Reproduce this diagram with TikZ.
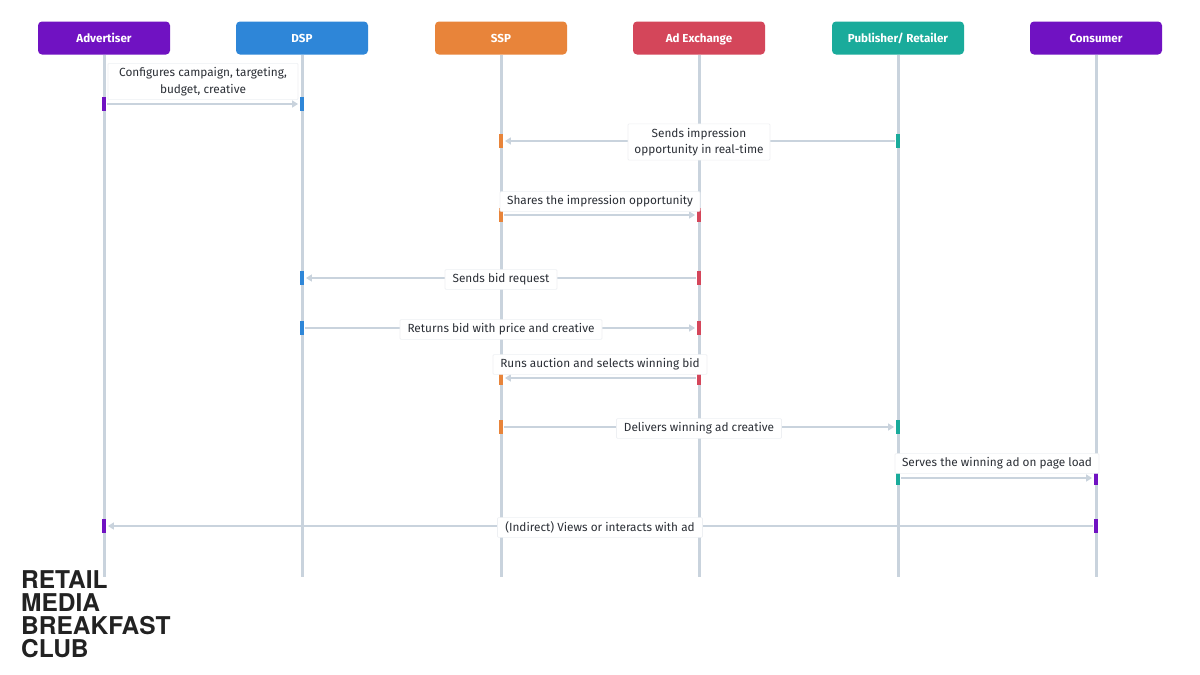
\documentclass[tikz,border=0pt]{standalone}
\usepackage{fontspec}
\setmainfont{Fira Sans}
\newfontfamily\logofont{TeX Gyre Heros}
\usetikzlibrary{arrows.meta}
\definecolor{cAdv}{HTML}{7012C2}
\definecolor{cDsp}{HTML}{2E86D8}
\definecolor{cSsp}{HTML}{E8843A}
\definecolor{cAdx}{HTML}{D4465A}
\definecolor{cPub}{HTML}{1AAB9B}
\definecolor{cLine}{HTML}{C9D3DD}
\definecolor{cText}{HTML}{2B2F36}
\definecolor{cLogo}{HTML}{222222}
\definecolor{cBorder}{HTML}{EEF0F3}
\begin{document}
\begin{tikzpicture}[x=1pt,y=-1pt,
  header/.style={rounded corners=4pt, minimum width=132pt, minimum height=33pt, inner sep=0pt, text height=8.2pt, text depth=0pt, text=white, font=\bfseries\fontsize{11.6}{13}\selectfont},
  life/.style={draw=cLine, line width=3pt},
  bar/.style={minimum width=4.5pt, minimum height=14pt, inner sep=0pt},
  msg/.style={draw=cLine, line width=2.5pt, -{Triangle[length=6pt,width=7pt]}, shorten >=1.5pt, shorten <=1pt},
  lbl/.style={fill=white, draw=cBorder, line width=0.6pt, rounded corners=1pt, text=cText, align=center, font=\fontsize{11.8}{16.5}\selectfont, inner xsep=5pt, inner ysep=4pt}
]
\useasboundingbox (0,0) rectangle (1200,675);
\fill[white] (0,0) rectangle (1200,675);

% headers
\node[header, fill=cAdv] (adv) at (104,38) {Advertiser};
\node[header, fill=cDsp] (dsp) at (302,38) {DSP};
\node[header, fill=cSsp] (ssp) at (501,38) {SSP};
\node[header, fill=cAdx] (adx) at (699,38) {Ad Exchange};
\node[header, fill=cPub] (pub) at (898,38) {Publisher/ Retailer};
\node[header, fill=cAdv] (con) at (1096,38) {Consumer};

% lifeline ends
\coordinate (advE) at (104,577);
\coordinate (dspE) at (302,577);
\coordinate (sspE) at (501,577);
\coordinate (adxE) at (699,577);
\coordinate (pubE) at (898,577);
\coordinate (conE) at (1096,577);
\draw[life] (adv) -- (advE);
\draw[life] (dsp) -- (dspE);
\draw[life] (ssp) -- (sspE);
\draw[life] (adx) -- (adxE);
\draw[life] (pub) -- (pubE);
\draw[life] (con) -- (conE);

% activation bars
\node[bar, fill=cAdv] (m1s) at (104,104) {};
\node[bar, fill=cDsp] (m1t) at (302,104) {};
\node[bar, fill=cPub] (m2s) at (898,141) {};
\node[bar, fill=cSsp] (m2t) at (501,141) {};
\node[bar, fill=cSsp] (m3s) at (501,215) {};
\node[bar, fill=cAdx] (m3t) at (699,215) {};
\node[bar, fill=cAdx] (m4s) at (699,278) {};
\node[bar, fill=cDsp] (m4t) at (302,278) {};
\node[bar, fill=cDsp] (m5s) at (302,328) {};
\node[bar, fill=cAdx] (m5t) at (699,328) {};
\node[bar, fill=cAdx] (m6s) at (699,378) {};
\node[bar, fill=cSsp] (m6t) at (501,378) {};
\node[bar, fill=cSsp] (m7s) at (501,427) {};
\node[bar, fill=cPub] (m7t) at (898,427) {};
\node[bar, fill=cPub] (m8s) at (898,478) {};
\node[bar, fill=cAdv] (m8t) at (1096,478) {};
\node[bar, fill=cAdv] (m9s) at (1096,526) {};
\node[bar, fill=cAdv] (m9t) at (104,526) {};

% messages
\draw[msg] (m1s.east) -- (m1t.west);
\draw[msg] (m2s.west) -- (m2t.east);
\draw[msg] (m3s.east) -- (m3t.west);
\draw[msg] (m4s.west) -- (m4t.east);
\draw[msg] (m5s.east) -- (m5t.west);
\draw[msg] (m6s.west) -- (m6t.east);
\draw[msg] (m7s.east) -- (m7t.west);
\draw[msg] (m8s.east) -- (m8t.west);
\draw[msg] (m9s.west) -- (m9t.east);

% labels
\node[lbl, minimum width=190pt] (l1) at (203,81.5) {Configures campaign, targeting,\\budget, creative};
\node[lbl, minimum width=142pt] (l2) at (699,142) {Sends impression\\opportunity in real-time};
\node[lbl, minimum width=200pt] (l3) at (600,201.5) {Shares the impression opportunity};
\node[lbl, minimum width=112pt] (l4) at (501,279.5) {Sends bid request};
\node[lbl, minimum width=202pt] (l5) at (501,329.5) {Returns bid with price and creative};
\node[lbl, minimum width=214pt] (l6) at (600,364.5) {Runs auction and selects winning bid};
\node[lbl, minimum width=165pt] (l7) at (699,428.5) {Delivers winning ad creative};
\node[lbl, minimum width=204pt] (l8) at (997,463.5) {Serves the winning ad on page load};
\node[lbl, minimum width=205pt] (l9) at (600,527.5) {(Indirect) Views or interacts with ad};

% logo
\node[anchor=north west, inner sep=0pt, align=left, text=cLogo, font=\logofont\bfseries\fontsize{24.5}{23.3}\selectfont] (logo) at (21,570) {RETAIL\\MEDIA\\BREAKFAST\\CLUB};
\end{tikzpicture}
\end{document}
